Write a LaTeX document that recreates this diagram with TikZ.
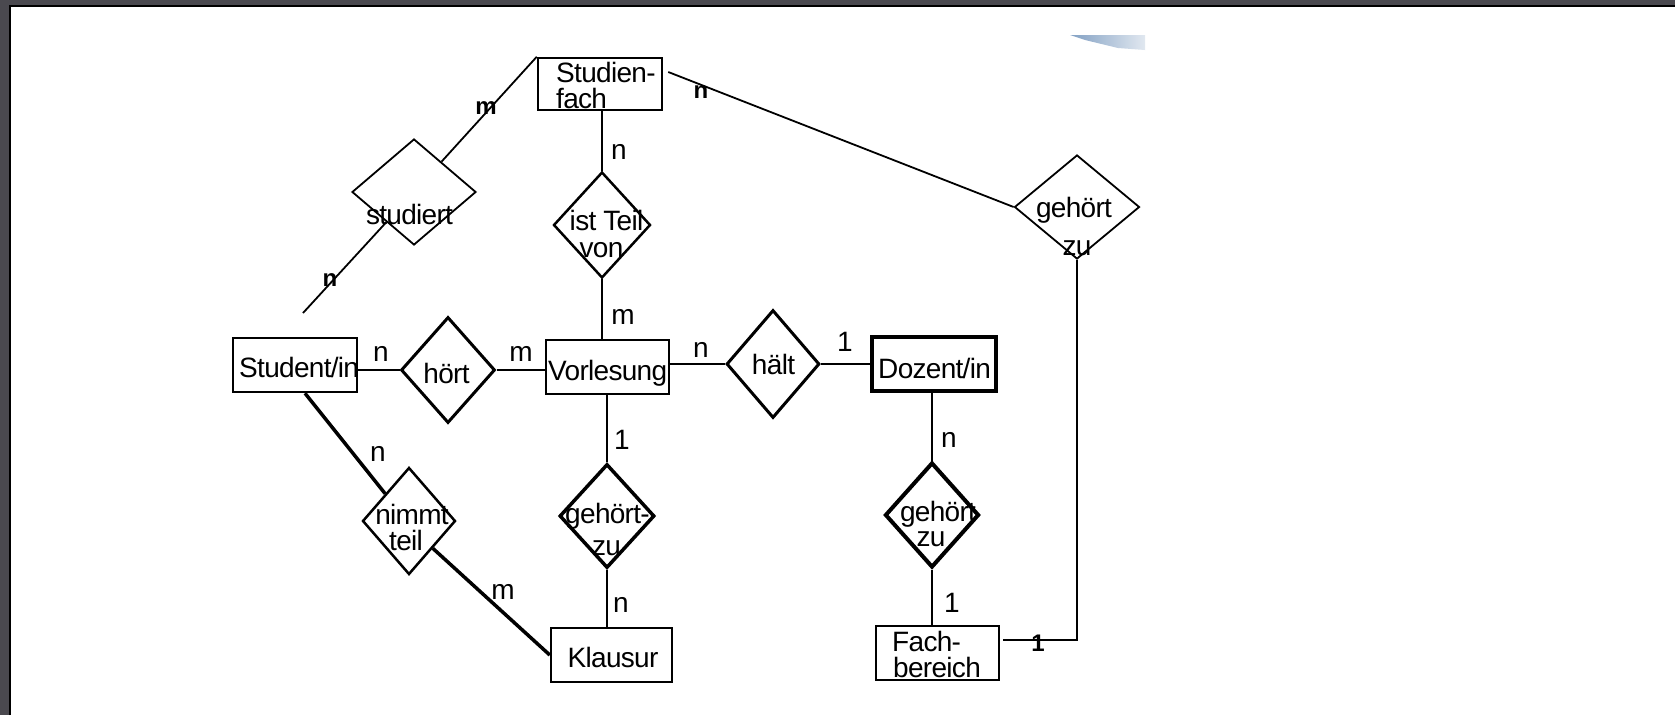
\documentclass[tikz,border=0pt]{standalone}
\usepackage{fontspec}
\setmainfont{Liberation Sans}[LetterSpace=-2.5]
\usetikzlibrary{shapes.geometric,calc}
\definecolor{framegray}{RGB}{74,73,79}
\definecolor{smudgeblue}{RGB}{130,160,195}
\definecolor{smudgelight}{RGB}{225,232,240}
\newcommand\ertext{\fontsize{28}{28}\selectfont}
\newcommand\erbold{\fontsize{24}{24}\selectfont\bfseries}

\begin{document}
\begin{tikzpicture}[x=1pt,y=-1pt,
  entity/.style={draw, rectangle, inner sep=0pt, line width=2.5pt},
  rel/.style={draw, diamond, inner sep=0pt, line join=miter},
  txt/.style={inner sep=0pt, font=\ertext},
  card/.style={inner sep=0pt, font=\ertext},
  conn/.style={line width=2pt},
  thickconn/.style={line width=3.5pt}]

\useasboundingbox (0,0) rectangle (1675,715);

% slide frame
\fill[framegray] (0,0) rectangle (1675,715);
\fill[white] (11,6.5) rectangle (1675,715);
\draw[black, line width=2pt] (9.8,715) -- (9.8,5.7) -- (1675,5.7);

% small shaded fleck at the top
\shade[left color=smudgeblue, right color=smudgelight]
  (1070,35) -- (1145,35) -- (1145,50) -- (1118,48) -- (1085,40) -- cycle;

% entities
\node[entity, minimum width=124pt, minimum height=52pt] (sfach)   at (600,84) {};
\node[entity, minimum width=124pt, minimum height=54pt] (student) at (295,365) {};
\node[entity, minimum width=123pt, minimum height=54pt] (vorl)    at (607.5,367) {};
\node[entity, minimum width=124pt, minimum height=54pt, line width=4pt] (doz) at (934,364) {};
\node[entity, minimum width=121pt, minimum height=54pt] (klaus)   at (611.5,655) {};
\node[entity, minimum width=123pt, minimum height=54pt] (fach)    at (937.5,653) {};

% relationships
\node[rel, minimum width=124pt, minimum height=106pt, line width=1.8pt] (studiert) at (414,192) {};
\node[rel, minimum width=97pt,  minimum height=106pt, line width=2.5pt] (istteil)  at (602,225) {};
\node[rel, minimum width=94pt,  minimum height=106pt, line width=3pt]   (hoert)    at (448,370) {};
\node[rel, minimum width=93pt,  minimum height=108pt, line width=3pt]   (haelt)    at (773,364) {};
\node[rel, minimum width=95pt,  minimum height=104pt, line width=3.5pt] (gzL)      at (607,516) {};
\node[rel, minimum width=94pt,  minimum height=105pt, line width=4pt]   (gzR)      at (932,515) {};
\node[rel, minimum width=125pt, minimum height=104pt, line width=1.8pt] (gzT)      at (1077,207) {};
\node[rel, minimum width=93pt,  minimum height=107pt, line width=2.5pt] (nimmt)    at (409,521) {};

% entity texts
\node[txt, anchor=base west] (sfach-a)   at (556,82)  {Studien-};
\node[txt, anchor=base west] (sfach-b)   at (556,108) {fach};
\node[txt, anchor=base west] (student-t) at (239,377) {Student/in};
\node[txt, anchor=base west] (vorl-t)    at (548,380) {Vorlesung};
\node[txt, anchor=base west] (doz-t)     at (878,378) {Dozent/in};
\node[txt, anchor=base]      (klaus-t)   at (613,667) {Klausur};
\node[txt, anchor=base west] (fach-a)    at (892,651) {Fach-};
\node[txt, anchor=base west] (fach-b)    at (893,677) {bereich};

% relationship texts
\node[txt, anchor=base] (studiert-t) at (409.5,224) {studiert};
\node[txt, anchor=base] (istteil-a)  at (606.5,230) {ist Teil};
\node[txt, anchor=base] (istteil-b)  at (601.5,257) {von};
\node[txt, anchor=base] (hoert-t)    at (446.5,383) {hört};
\node[txt, anchor=base] (haelt-t)    at (773.5,374) {hält};
\node[txt, anchor=base] (gzL-a)      at (607.5,523) {gehört-};
\node[txt, anchor=base] (gzL-b)      at (606.5,555) {zu};
\node[txt, anchor=base] (gzR-a)      at (938,521)   {gehört};
\node[txt, anchor=base] (gzR-b)      at (931,546)   {zu};
\node[txt, anchor=base] (gzT-a)      at (1074,217)  {gehört};
\node[txt, anchor=base] (gzT-b)      at (1077,255)  {zu};
\node[txt, anchor=base] (nimmt-a)    at (412,524)   {nimmt};
\node[txt, anchor=base] (nimmt-b)    at (406,550)   {teil};

% connectors
\coordinate (nfree) at (303,313);
\draw[conn, line width=1.8pt] (studiert) -- (sfach.north west);
\draw[conn, line width=1.8pt] (studiert) -- (nfree);
\draw[conn] (istteil.north |- sfach.south) -- (istteil.north);
\draw[conn] (istteil.south) -- (istteil.south |- vorl.north);
\draw[conn] (hoert.west -| student.east) -- (hoert.west);
\draw[conn] (hoert.east) -- (hoert.east -| vorl.west);
\draw[conn] (haelt.west -| vorl.east) -- (haelt.west);
\draw[conn] (haelt.east) -- (haelt.east -| doz.west);
\draw[conn] (gzL.north |- vorl.south) -- (gzL.north);
\draw[conn] (gzL.south) -- (gzL.south |- klaus.north);
\draw[conn] (gzR.north |- doz.south) -- (gzR.north);
\draw[conn] (gzR.south) -- (gzR.south |- fach.north);
\draw[conn, line width=1.8pt] ($(sfach.east)+(5,-12)$) -- (gzT.west);
\draw[conn] (gzT.south) |- ($(fach.east)+(3,-13)$);
\draw[thickconn] ($(student.south)+(10,0)$) -- (nimmt.north west);
\draw[thickconn] (nimmt.south east) -- (klaus.west);

% cardinalities
\node[card] (c-sf-m)  at (486,108) {\erbold m};
\node[card] (c-st-n)  at (330,280) {\erbold n};
\node[card] (c-sfT-n) at (701,92)  {\erbold n};
\node[card] (c-fbT-1) at (1038,643) {\erbold 1};
\node[card] (c-sfi-n) at (619,152) {n};
\node[card] (c-vi-m)  at (623,317) {m};
\node[card] (c-sh-n)  at (381,354) {n};
\node[card] (c-vh-m)  at (521,354) {m};
\node[card] (c-vha-n) at (701,350) {n};
\node[card] (c-dha-1) at (845,342) {1};
\node[card] (c-vg-1)  at (622,440) {1};
\node[card] (c-kg-n)  at (621,605) {n};
\node[card] (c-dg-n)  at (949,440) {n};
\node[card] (c-fg-1)  at (952,603) {1};
\node[card] (c-sn-n)  at (378,454) {n};
\node[card] (c-kn-m)  at (503,592) {m};

\end{tikzpicture}
\end{document}
